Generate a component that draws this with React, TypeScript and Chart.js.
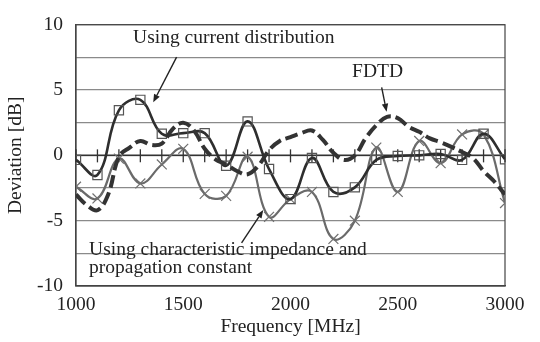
import React, { useEffect, useRef } from "react";
import { Chart, registerables } from "chart.js";

Chart.register(...registerables);

// ---- data ----
const freqs = [1000, 1100, 1200, 1300, 1400, 1500, 1600, 1700, 1800, 1900, 2000, 2100, 2200, 2300, 2400, 2500, 2600, 2700, 2800, 2900, 3000];
const currentDist = [-0.35, -1.5, 3.45, 4.25, 1.65, 1.7, 1.7, -0.8, 2.6, -1.05, -3.35, -0.2, -2.8, -2.45, -0.35, -0.05, 0.0, 0.1, -0.35, 1.65, -0.3];
const charImpedance = [-2.4, -3.3, -0.25, -2.15, -0.7, 0.5, -2.95, -3.1, -0.1, -4.7, -3.35, -2.8, -6.4, -5.0, 0.6, -2.8, 1.1, -0.6, 1.6, 1.6, -3.65];
const fdtdFreqs = [1000, 1050, 1100, 1150, 1200, 1250, 1300, 1350, 1400, 1450, 1500, 1550, 1600, 1650, 1700, 1750, 1800, 1850, 1900, 1950, 2000, 2050, 2100, 2150, 2200, 2250, 2300, 2350, 2400, 2450, 2500, 2550, 2600, 2650, 2700, 2750, 2800, 2850, 2900, 2950, 3000];
const fdtdValues = [-3.0, -3.8, -4.2, -3.0, -0.1, 0.6, 1.1, 0.8, 0.9, 2.0, 2.5, 1.9, 0.5, -0.3, -0.7, -1.2, -1.45, -0.8, 0.4, 1.1, 1.4, 1.7, 1.9, 1.2, 0.2, -0.35, 0.0, 1.3, 2.3, 2.95, 2.85, 2.2, 1.8, 1.3, 1.0, 0.65, 0.25, -0.2, -1.2, -2.0, -3.0];
const yTickLabels = ["-10", "-5", "0", "5", "10"];

const FONT = "'Liberation Serif', 'Times New Roman', serif";

const annotationTexts = [
  { text: "Using current distribution", f: 1266, v: 8.57 },
  { text: "FDTD", f: 2287, v: 6.0 },
  { text: "Using characteristic impedance and", f: 1061, v: -7.63 },
  { text: "propagation constant", f: 1061, v: -8.99 },
];
const annotationArrows = [
  { f1: 1469, v1: 7.52, f2: 1360, v2: 4.06 },
  { f1: 2425, v1: 5.2, f2: 2448, v2: 3.34 },
  { f1: 1772, v1: -6.7, f2: 1873, v2: -4.19 },
];

const framePlugin = {
  id: "frame",
  beforeDatasetsDraw(chart: any) {
    const { ctx, chartArea: a, scales } = chart;
    const xs = scales.x, ys = scales.y;
    ctx.save();
    // frame
    ctx.strokeStyle = "#444";
    ctx.lineWidth = 1.2;
    ctx.strokeRect(a.left, a.top, a.right - a.left, a.bottom - a.top);
    // zero axis with cross ticks
    const y0 = ys.getPixelForValue(0);
    ctx.strokeStyle = "#333";
    ctx.lineWidth = 1.5;
    ctx.beginPath();
    ctx.moveTo(a.left, y0);
    ctx.lineTo(a.right, y0);
    ctx.stroke();
    ctx.lineWidth = 1.3;
    for (const f of freqs) {
      const x = xs.getPixelForValue(f);
      ctx.beginPath();
      ctx.moveTo(x, y0 - 6);
      ctx.lineTo(x, y0 + 7);
      ctx.stroke();
    }
    ctx.restore();
  },
};

const annotationPlugin = {
  id: "annot",
  afterDraw(chart: any) {
    const { ctx, scales } = chart;
    const xs = scales.x, ys = scales.y;
    ctx.save();
    ctx.font = `19.5px ${FONT}`;
    ctx.fillStyle = "#222";
    ctx.textBaseline = "alphabetic";
    ctx.textAlign = "left";
    for (const t of annotationTexts) {
      ctx.fillText(t.text, xs.getPixelForValue(t.f), ys.getPixelForValue(t.v));
    }
    ctx.strokeStyle = "#222";
    ctx.fillStyle = "#222";
    ctx.lineWidth = 1.4;
    for (const ar of annotationArrows) {
      const x1 = xs.getPixelForValue(ar.f1), y1 = ys.getPixelForValue(ar.v1);
      const x2 = xs.getPixelForValue(ar.f2), y2 = ys.getPixelForValue(ar.v2);
      const ang = Math.atan2(y2 - y1, x2 - x1);
      const hl = 8, hw = 3.2;
      const bx = x2 - hl * Math.cos(ang), by = y2 - hl * Math.sin(ang);
      ctx.beginPath();
      ctx.moveTo(x1, y1);
      ctx.lineTo(bx, by);
      ctx.stroke();
      ctx.beginPath();
      ctx.moveTo(x2, y2);
      ctx.lineTo(bx + hw * Math.sin(ang), by - hw * Math.cos(ang));
      ctx.lineTo(bx - hw * Math.sin(ang), by + hw * Math.cos(ang));
      ctx.closePath();
      ctx.fill();
    }
    ctx.restore();
  },
};

export default function App() {
  const ref = useRef<HTMLCanvasElement>(null);
  useEffect(() => {
    if (!ref.current) return;
    const chart = new Chart(ref.current, {
      type: "line",
      data: {
        datasets: [
          {
            label: "FDTD",
            data: fdtdFreqs.map((f, i) => ({ x: f, y: fdtdValues[i] })),
            borderColor: "#333",
            borderWidth: 4,
            borderDash: [13, 5],
            pointRadius: 0,
            tension: 0.4,
            fill: false,
          },
          {
            label: "Using current distribution",
            data: freqs.map((f, i) => ({ x: f, y: currentDist[i] })),
            borderColor: "#2e2e2e",
            borderWidth: 2.6,
            pointStyle: "rect",
            pointRadius: 6.5,
            pointBorderColor: "#555",
            pointBackgroundColor: "rgba(0,0,0,0)",
            pointBorderWidth: 1.2,
            tension: 0.4,
            fill: false,
          },
          {
            label: "Using characteristic impedance and propagation constant",
            data: freqs.map((f, i) => ({ x: f, y: charImpedance[i] })),
            borderColor: "#6a6a6a",
            borderWidth: 2.2,
            pointStyle: "crossRot",
            pointRadius: 7,
            pointBorderColor: "#707070",
            pointBorderWidth: 1.2,
            tension: 0.4,
            fill: false,
          },
        ],
      },
      options: {
        responsive: false,
        animation: false,
        layout: { padding: { left: 0, top: 7, right: 35, bottom: 0 } },
        plugins: { legend: { display: false }, tooltip: { enabled: false } },
        scales: {
          x: {
            type: "linear",
            min: 1000,
            max: 3000,
            grid: { display: false, drawTicks: false },
            border: { display: true, color: "#444", width: 1.2 },
            ticks: {
              stepSize: 500,
              padding: 7,
              color: "#222",
              font: { family: FONT, size: 19.5 },
              maxRotation: 0,
              callback: (v: any) => String(v),
            },
            title: {
              display: true,
              text: "Frequency [MHz]",
              color: "#222",
              font: { family: FONT, size: 19.5 },
              padding: { top: 0, bottom: 3 },
            },
            afterFit: (s: any) => {
              s.height = 56;
            },
          },
          y: {
            type: "linear",
            min: -10,
            max: 10,
            grid: { color: "#8a8a8a", lineWidth: 1.2, drawTicks: false },
            border: { display: true, color: "#444", width: 1.2 },
            ticks: {
              stepSize: 2.5,
              padding: 13,
              color: "#222",
              font: { family: FONT, size: 19.5 },
              callback: (v: any) => {
                const n = Number(v);
                if (n % 5 !== 0) return "";
                const idx = (n + 10) / 5;
                return yTickLabels[idx] ?? "";
              },
            },
            title: {
              display: true,
              text: "Deviation [dB]",
              color: "#222",
              font: { family: FONT, size: 19.5 },
              padding: { top: 4, bottom: 0 },
            },
            afterFit: (s: any) => {
              s.width = 76;
            },
          },
        },
      },
      plugins: [framePlugin, annotationPlugin],
    });
    return () => chart.destroy();
  }, []);
  return (
    <div style={{ position: "fixed", left: 0, top: 0, width: 540, height: 342, background: "#fff" }}>
      <canvas ref={ref} width={540} height={342} />
    </div>
  );
}
